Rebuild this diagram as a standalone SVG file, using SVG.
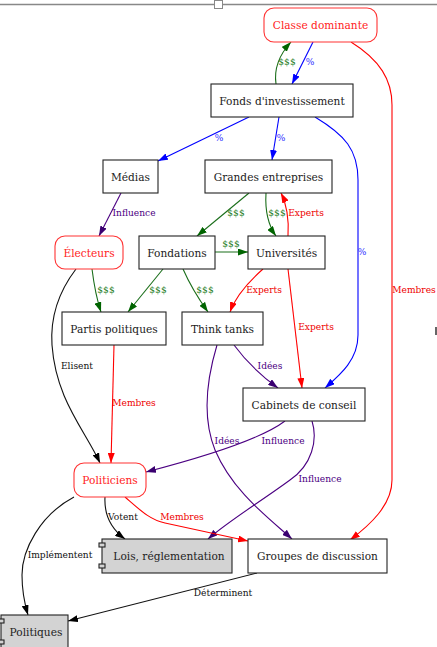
<svg xmlns="http://www.w3.org/2000/svg" width="437" height="647" viewBox="0 0 437 647">
<style>
.n{fill:#fff;stroke:#222;stroke-width:1.1}
.r{fill:#fff;stroke:#f33;stroke-width:1.1}
.g{fill:#d3d3d3;stroke:#222;stroke-width:1.1}
.t{font-family:"DejaVu Serif","Liberation Serif",serif;font-size:10.6px;text-anchor:middle;fill:#222}
.tr{fill:#f22}
.l{font-family:"DejaVu Serif","Liberation Serif",serif;font-size:9.1px;text-anchor:middle}
.e{fill:none;stroke-width:1.1}
.cg{stroke:#1a6e1a}.cb{stroke:#0000ff}.cr{stroke:#ff0000}.cp{stroke:#4b0082}.ck{stroke:#111}
.fg{fill:#1a7a1a}.fb{fill:#3333ff}.fr{fill:#e00}.fp{fill:#4b0082}.fk{fill:#111}
</style>
<defs>
<marker id="ag" viewBox="0 0 10 7" refX="10" refY="3.5" markerWidth="10" markerHeight="7" markerUnits="userSpaceOnUse" orient="auto"><path d="M0,0L10,3.5L0,7z" fill="#006400"/></marker>
<marker id="ab" viewBox="0 0 10 7" refX="10" refY="3.5" markerWidth="10" markerHeight="7" markerUnits="userSpaceOnUse" orient="auto"><path d="M0,0L10,3.5L0,7z" fill="#0000ff"/></marker>
<marker id="ar" viewBox="0 0 10 7" refX="10" refY="3.5" markerWidth="10" markerHeight="7" markerUnits="userSpaceOnUse" orient="auto"><path d="M0,0L10,3.5L0,7z" fill="#ff0000"/></marker>
<marker id="ap" viewBox="0 0 10 7" refX="10" refY="3.5" markerWidth="10" markerHeight="7" markerUnits="userSpaceOnUse" orient="auto"><path d="M0,0L10,3.5L0,7z" fill="#3a0070"/></marker>
<marker id="ak" viewBox="0 0 10 7" refX="10" refY="3.5" markerWidth="10" markerHeight="7" markerUnits="userSpaceOnUse" orient="auto"><path d="M0,0L10,3.5L0,7z" fill="#000"/></marker>
</defs>
<rect width="437" height="647" fill="#fff"/>
<g id="frame">
<line x1="0" y1="4.5" x2="437" y2="4.5" stroke="#888" stroke-width="1.5"/>
<rect x="214.5" y="0.5" width="8" height="8" fill="#fff" stroke="#888"/>
<rect x="435" y="327" width="2" height="8" fill="#666"/>
</g>
<g id="edges">
<path class="e cg" d="M276,84 C274,70 279,55 291,42" marker-end="url(#ag)"/>
<text class="l fg" x="287" y="65">$$$</text>
<path class="e cb" d="M313,42 L292,84" marker-end="url(#ab)"/>
<text class="l fb" x="310" y="65">%</text>
<path class="e cb" d="M249,117 L158,161" marker-end="url(#ab)"/>
<text class="l fb" x="219" y="141">%</text>
<path class="e cb" d="M279,117 L272,160" marker-end="url(#ab)"/>
<text class="l fb" x="281" y="141">%</text>
<path class="e cb" d="M315,117 C345,135 358,150 358,180 L358,335 C358,360 340,375 325,388" marker-end="url(#ab)"/>
<text class="l fb" x="362" y="255">%</text>
<path class="e cr" d="M351,42 C380,60 392,80 392,105 L392,480 C392,505 370,525 350,540" marker-end="url(#ar)"/>
<text class="l fr" x="414" y="293">Membres</text>
<path class="e cp" d="M121,193 L99,236" marker-end="url(#ap)"/>
<text class="l fp" x="134" y="216">Influence</text>
<path class="e cg" d="M249,193 L197,236" marker-end="url(#ag)"/>
<text class="l fg" x="236" y="216">$$$</text>
<path class="e cg" d="M266,193 C265,210 268,225 276,236" marker-end="url(#ag)"/>
<text class="l fg" x="277" y="216">$$$</text>
<path class="e cr" d="M288,236 C289,220 287,205 281,193" marker-end="url(#ar)"/>
<text class="l fr" x="306" y="216">Experts</text>
<path class="e cg" d="M215,252 L248,252" marker-end="url(#ag)"/>
<text class="l fg" x="231" y="247">$$$</text>
<path class="e cg" d="M92,269 C94,285 97,300 101,312" marker-end="url(#ag)"/>
<text class="l fg" x="106" y="293">$$$</text>
<path class="e cg" d="M163,269 L128,312" marker-end="url(#ag)"/>
<text class="l fg" x="158" y="293">$$$</text>
<path class="e cg" d="M183,269 C190,285 198,298 208,312" marker-end="url(#ag)"/>
<text class="l fg" x="205" y="293">$$$</text>
<path class="e cr" d="M263,269 C245,285 235,298 230,312" marker-end="url(#ar)"/>
<text class="l fr" x="264" y="293">Experts</text>
<path class="e cr" d="M288,269 L302,388" marker-end="url(#ar)"/>
<text class="l fr" x="316" y="330">Experts</text>
<path class="e ck" d="M76,269 C60,290 50,315 52,345 C56,400 85,430 100,463" marker-end="url(#ak)"/>
<text class="l fk" x="77" y="369">Elisent</text>
<path class="e cr" d="M114,345 L111,463" marker-end="url(#ar)"/>
<text class="l fr" x="134" y="406">Membres</text>
<path class="e cp" d="M234,345 C245,360 260,375 278,388" marker-end="url(#ap)"/>
<text class="l fp" x="270" y="369">Idées</text>
<path class="e cp" d="M217,345 C205,385 203,420 215,450 C232,490 265,515 292,539" marker-end="url(#ap)"/>
<text class="l fp" x="227" y="444">Idées</text>
<path class="e cp" d="M285,421 C260,440 200,458 146,472" marker-end="url(#ap)"/>
<text class="l fp" x="283" y="444">Influence</text>
<path class="e cp" d="M312,421 C318,440 312,465 290,480 C260,502 230,520 208,539" marker-end="url(#ap)"/>
<text class="l fp" x="320" y="482">Influence</text>
<path class="e ck" d="M105,497 C104,515 110,528 125,539" marker-end="url(#ak)"/>
<text class="l fk" x="123" y="520">Votent</text>
<path class="e cr" d="M125,497 C140,510 150,520 165,523 L248,541" marker-end="url(#ar)"/>
<text class="l fr" x="182" y="520">Membres</text>
<path class="e ck" d="M74,497 C40,515 22,550 22,575 C22,590 25,605 28,615" marker-end="url(#ak)"/>
<text class="l fk" x="60" y="558">Implémentent</text>
<path class="e ck" d="M257,573 L68,621" marker-end="url(#ak)"/>
<text class="l fk" x="223" y="596">Déterminent</text>
</g>
<g id="classe"><rect class="r" x="264" y="8" width="113" height="34" rx="10"/><text class="t tr" x="320.5" y="28.5">Classe dominante</text></g>
<g id="fonds"><rect class="n" x="211" y="84" width="142" height="33"/><text class="t" x="282" y="104.5">Fonds d'investissement</text></g>
<g id="medias"><rect class="n" x="103" y="160" width="55" height="33"/><text class="t" x="130.5" y="180.5">Médias</text></g>
<g id="grandes"><rect class="n" x="205" y="160" width="127" height="33"/><text class="t" x="268.5" y="180.5">Grandes entreprises</text></g>
<g id="electeurs"><rect class="r" x="55" y="236" width="68" height="33" rx="10"/><text class="t tr" x="89" y="256.5">Électeurs</text></g>
<g id="fondations"><rect class="n" x="139" y="236" width="76" height="33"/><text class="t" x="177" y="256.5">Fondations</text></g>
<g id="universites"><rect class="n" x="248" y="236" width="77" height="33"/><text class="t" x="286.5" y="256.5">Universités</text></g>
<g id="partis"><rect class="n" x="62" y="312" width="104" height="33"/><text class="t" x="114" y="332.5">Partis politiques</text></g>
<g id="thinktanks"><rect class="n" x="182" y="312" width="81" height="33"/><text class="t" x="222.5" y="332.5">Think tanks</text></g>
<g id="cabinets"><rect class="n" x="243" y="388" width="122" height="33"/><text class="t" x="304" y="408.5">Cabinets de conseil</text></g>
<g id="politiciens"><rect class="r" x="74" y="463" width="72" height="34" rx="10"/><text class="t tr" x="110" y="484">Politiciens</text></g>
<g id="lois"><rect class="g" x="102" y="539" width="130" height="34"/><rect class="g" x="99" y="543" width="6" height="4"/><rect class="g" x="99" y="564" width="6" height="4"/><text class="t" x="169" y="560">Lois, réglementation</text></g>
<g id="groupes"><rect class="n" x="248" y="539" width="139" height="34"/><text class="t" x="317.5" y="560">Groupes de discussion</text></g>
<g id="politiques"><rect class="g" x="1" y="615" width="67" height="36"/><rect class="g" x="-2" y="619" width="6" height="4"/><rect class="g" x="-2" y="640" width="6" height="4"/><text class="t" x="36" y="636">Politiques</text></g>
</svg>
